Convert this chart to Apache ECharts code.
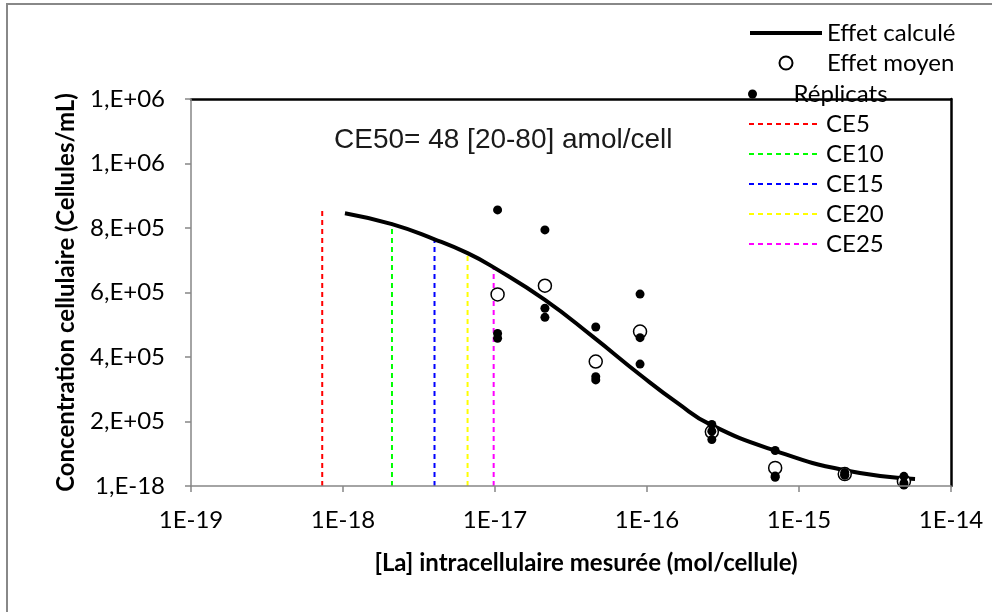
<!DOCTYPE html>
<html><head><meta charset="utf-8">
<script src="https://cdn.jsdelivr.net/npm/echarts@6/dist/echarts.min.js"></script>
<style>html,body{margin:0;padding:0;background:#fff}#c{width:992px;height:612px}</style>
</head><body><div id="c"></div>
<script>
// ---- data ----
const xTickExponents = [-19, -18, -17, -16, -15, -14];
const xTickLabels = ['1E-19', '1E-18', '1E-17', '1E-16', '1E-15', '1E-14'];
const yTickValues = [0, 200000, 400000, 600000, 800000, 1000000, 1200000];
const yTickLabels = ['1,E-18', '2,E+05', '4,E+05', '6,E+05', '8,E+05', '1,E+06', '1,E+06'];

const curveX = [1.03e-18, 2.1e-18, 4.0e-18, 6.6e-18, 9.8e-18, 2.13e-17, 4.4e-17, 9.0e-17, 1.6e-16, 2.6e-16, 6.9e-16, 2.0e-15, 5.8e-15];
const curveY = [846000, 812000, 765000, 722000, 678000, 577000, 463000, 345000, 256000, 191000, 110000, 49000, 22000];

const meanX = [1.04e-17, 2.13e-17, 4.6e-17, 9.0e-17, 2.67e-16, 6.97e-16, 2.0e-15, 4.9e-15];
const meanY = [594000, 621000, 386000, 479000, 168000, 56000, 37000, 14000];

const repX = [1.04e-17, 1.04e-17, 1.04e-17, 2.13e-17, 2.13e-17, 2.13e-17, 4.6e-17, 4.6e-17, 4.6e-17,
              9.0e-17, 9.0e-17, 9.0e-17, 2.67e-16, 2.67e-16, 2.67e-16, 6.97e-16, 6.97e-16, 6.97e-16,
              2.0e-15, 2.0e-15, 2.0e-15, 4.9e-15, 4.9e-15, 4.9e-15];
const repY = [856000, 473000, 458000, 794000, 551000, 523000, 493000, 339000, 329000,
              595000, 460000, 378000, 191000, 170000, 144000, 110000, 31000, 27000,
              42000, 36000, 33000, 30000, 9000, 3000];

const ceNames = ['CE5', 'CE10', 'CE15', 'CE20', 'CE25'];
const ceX = [7.3e-19, 2.1e-18, 4.0e-18, 6.6e-18, 9.8e-18];
const ceY = [859000, 816000, 769000, 722000, 679000];

// ---- styles ----
const ceColors = ['#FF0000', '#00FF00', '#0000FF', '#FFFF00', '#FF00FF'];
const axisGray = '#868686';
const font = 'Lato';

const chart = echarts.init(document.getElementById('c'), null, {renderer: 'canvas'});

const series = [];
ceNames.forEach((n, i) => {
  series.push({
    name: n, type: 'line', symbol: 'none', color: ceColors[i],
    lineStyle: {width: 2, type: [5, 4]},
    data: [[ceX[i], 0], [ceX[i], ceY[i]]],
    silent: true, z: 2
  });
});
series.push({
  name: 'Effet calculé', type: 'line', symbol: 'none', smooth: true, color: '#000',
  lineStyle: {width: 4},
  data: curveX.map((x, i) => [x, curveY[i]]), z: 3
});
series.push({
  name: 'Effet moyen', type: 'scatter', symbol: 'circle', symbolSize: 13,
  itemStyle: {color: '#fff', borderColor: '#000', borderWidth: 1.5, opacity: 1},
  data: meanX.map((x, i) => [x, meanY[i]]), z: 4
});
series.push({
  name: 'Réplicats', type: 'scatter', symbol: 'circle', symbolSize: 9,
  itemStyle: {color: '#000', opacity: 1},
  data: repX.map((x, i) => [x, repY[i]]), z: 5
});

const legendText = {fontFamily: font, fontSize: 24, color: '#000'};
const hide = {opacity: 0};

chart.setOption({
  animation: false,
  backgroundColor: '#fff',
  grid: {left: 191, right: 41, top: 99, bottom: 126, containLabel: false},
  legend: [
    {orient: 'vertical', left: 748, top: 21, padding: 0, itemGap: 6, itemWidth: 72, itemHeight: 13,
     textStyle: legendText, z: 1, lineStyle: {width: 'inherit'},
     data: [{name: 'Effet calculé', itemStyle: hide}, 'Effet moyen']},
    {orient: 'vertical', left: 748, top: 82, padding: 0, itemGap: 6, itemWidth: 72, itemHeight: 9,
     textStyle: legendText, z: 1, data: ['Réplicats']},
    {orient: 'vertical', left: 748, top: 112, padding: 0, itemGap: 6, itemWidth: 72, itemHeight: 13,
     textStyle: legendText, z: 1, lineStyle: {width: 'inherit'},
     data: ceNames.map(n => ({name: n, itemStyle: hide}))}
  ],
  xAxis: [
    {type: 'log', logBase: 10, min: 1e-19, max: 1e-14, position: 'bottom',
     axisLine: {onZero: false, lineStyle: {color: axisGray, width: 1.5}},
     axisTick: {show: true, length: 6, lineStyle: {color: axisGray, width: 1.5}},
     minorTick: {show: false}, splitLine: {show: false},
     axisLabel: {color: '#000', fontFamily: font, fontSize: 24, margin: 22,
       formatter: v => { const k = xTickExponents.indexOf(Math.round(Math.log10(v))); return k >= 0 ? xTickLabels[k] : ''; }},
     name: '[La] intracellulaire mesurée (mol/cellule)', nameLocation: 'middle', nameGap: 65,
     nameTextStyle: {color: '#000', fontFamily: font, fontSize: 24, fontWeight: 'bold', padding: [0, 0, 0, 30]},
     z: 6},
    {type: 'log', logBase: 10, min: 1e-19, max: 1e-14, position: 'top',
     axisLine: {show: true, onZero: false, lineStyle: {color: '#000', width: 2.5}},
     axisTick: {show: false}, axisLabel: {show: false}, splitLine: {show: false}, minorTick: {show: false}, z: 5}
  ],
  yAxis: [
    {type: 'value', min: 0, max: 1200000, interval: 200000, position: 'left',
     axisLine: {show: true, onZero: false, lineStyle: {color: axisGray, width: 1.5}},
     axisTick: {show: true, length: 6, lineStyle: {color: axisGray, width: 1.5}},
     splitLine: {show: false},
     axisLabel: {color: '#000', fontFamily: font, fontSize: 24, margin: 26,
       formatter: v => { const k = yTickValues.indexOf(v); return k >= 0 ? yTickLabels[k] : ''; }},
     name: 'Concentration cellulaire (Cellules/mL)', nameLocation: 'middle', nameGap: 113,
     nameTextStyle: {color: '#000', fontFamily: font, fontSize: 24, fontWeight: 'bold'},
     z: 6},
    {type: 'value', min: 0, max: 1200000, position: 'right',
     axisLine: {show: true, onZero: false, lineStyle: {color: '#000', width: 2.5}},
     axisTick: {show: false}, axisLabel: {show: false}, splitLine: {show: false}, z: 5}
  ],
  graphic: [
    {type: 'rect', silent: true, z: 0, shape: {x: 7, y: 4, width: 1200, height: 1000},
     style: {fill: 'none', stroke: '#888', lineWidth: 2}},
    {type: 'text', left: 334, top: 126, silent: true, z: 10,
     style: {text: 'CE50= 48 [20-80] amol/cell', fontFamily: 'Liberation Sans', fontSize: 28, fill: '#1a1a1a'}}
  ],
  series: series
});
</script></body></html>
